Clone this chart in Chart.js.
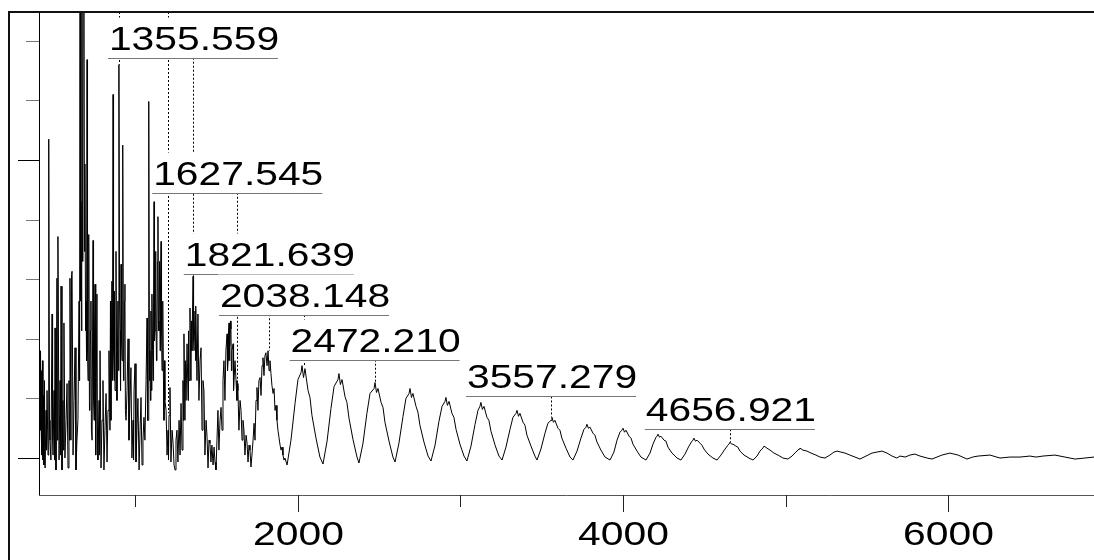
<!DOCTYPE html>
<html>
<head>
<meta charset="utf-8">
<script src="https://cdn.jsdelivr.net/npm/chart.js@4.4.0/dist/chart.umd.min.js"></script>
<style>
    html, body { margin: 0; padding: 0; background: #fff; }
    canvas { display: block; }
</style>
</head>
<body>
<canvas id="spectrum" width="1094" height="560"></canvas>
<script>
// --- DATA (m/z vs. intensity, arbitrary units, baseline = 0) ---

// low-mass part, very spiky
const mzA = [409, 412, 415, 418, 421, 424, 427, 430, 433, 436,
             439, 442, 446, 452, 455, 458, 464, 467, 470, 473,
             476, 482, 489, 492, 495, 501, 504, 507, 513, 519,
             522, 525, 532, 538, 541, 544, 550, 556, 559, 562,
             568, 575, 581, 587, 593, 596, 599, 605, 609, 612,
             618, 624, 630, 636, 642, 648];
const intA = [18, 106, 28, 108, 38, 88, 3, 98, -2, 63,
              -7, 78, -10, 48, 8, 68, 3, 128, 321, 38,
              18, -2, 145, 18, 3, 68, -2, 131, -12, 181,
              18, 223, -2, 78, 3, 173, -12, 58, 8, 136,
              0, 38, 75, -10, 78, 18, 181, 18, 185, 188,
              3, 58, 111, -12, 18, 38];

const mzB = [655, 658, 661, 664, 667, 670, 673, 676, 679, 682,
             685, 688, 691, 695, 698, 701, 704, 707, 710, 713,
             716, 719, 722, 725, 728, 731, 735];
const intB = [158, 78, 620, 158, 258, 128, 640, 198, 278, 640,
              600, 208, 296, 128, 158, 98, 401, 108, 78, 168,
              225, 48, 58, 128, 158, 28, 18];

const mzC = [741, 744, 747, 750, 753, 756, 759, 765, 768, 771,
             778, 781, 784, 790, 796, 802, 808, 814, 821, 827,
             833, 839, 845];
const intC = [219, 58, 38, 128, 175, 18, 3, 165, 28, -2,
              58, 3, 108, -10, 38, 78, -12, 28, 65, -4,
              48, 108, 28];

const mzD = [848, 851, 857, 860, 864, 867, 870, 873, 876, 882,
             885, 888, 894, 897, 900, 904, 907, 910, 913, 916,
             919, 922, 925, 928, 931, 934, 937, 940, 944];
const intD = [158, 38, 178, 78, 366, 108, 78, 168, 68, 208,
              108, 58, 158, 88, 396, 158, 128, 68, 195, 118,
              98, 168, 315, 78, 88, 158, 175, 48, 38];

const mzE = [950, 956, 962, 968, 974, 980, 987, 990, 993, 999,
             1005, 1011, 1017, 1024, 1030, 1036, 1042, 1048, 1054, 1060,
             1067];
const intE = [68, 120, 18, 58, 91, 0, 38, -2, 68, 95,
              -4, 28, 60, -12, 28, 61, -7, 18, 41, 18,
              78];

const mzF = [1073, 1076, 1079, 1082, 1085, 1088, 1091, 1094, 1097, 1100,
             1103, 1107, 1110, 1113, 1116, 1119, 1122, 1125, 1128, 1131,
             1134, 1137, 1140, 1143, 1146, 1150, 1153, 1156, 1159, 1162,
             1165, 1168, 1171, 1174, 1177, 1180, 1183];
const intF = [141, 38, 38, 128, 359, 78, 108, 58, 148, 68,
              165, 108, 78, 158, 258, 118, 128, 208, 168, 98,
              118, 198, 243, 138, 128, 198, 108, 178, 218, 128,
              88, 148, 158, 78, 38, 98, 58];

const mzG = [1190, 1196, 1202, 1205, 1208, 1214, 1220, 1227, 1233, 1239,
             1245, 1251, 1257, 1263, 1270, 1276, 1282, 1288];
const intG = [48, 3, 28, -2, 43, 71, -4, 28, 15, -7,
              -12, 18, 28, -4, 38, 3, 55, 8];

const mzH = [1294, 1297, 1300, 1306, 1309, 1313, 1319, 1325, 1328, 1331,
             1337, 1343, 1346, 1349, 1356, 1359, 1362, 1368, 1371, 1374,
             1380, 1386, 1392, 1399];
const intH = [78, 38, 125, 38, 98, 58, 115, 58, 128, 78,
              151, 78, 138, 108, 183, 118, 108, 148, 98, 153,
              78, 145, 58, 98];

const mzI = [1405, 1411, 1417, 1423, 1429, 1436, 1442, 1448, 1454, 1460,
             1466, 1472, 1479, 1485, 1491, 1497, 1503];
const intI = [111, 28, 78, 68, 3, 38, 21, -10, 18, 15,
              -4, 13, -7, 11, -4, -12, 18];

const mzJ = [1509, 1515, 1522, 1528, 1534, 1540, 1546, 1552, 1558, 1565,
             1568, 1571, 1574, 1577, 1580, 1583, 1586, 1589, 1592, 1595,
             1602, 1605, 1608, 1614, 1620, 1626, 1629, 1632, 1638, 1645];
const intJ = [48, 8, 38, 51, 28, 78, 98, 58, 108, 125,
              88, 98, 128, 136, 98, 113, 138, 130, 88, 108,
              115, 68, 78, 98, 78, 58, 75, 68, 28, 58];

const mzK = [1651, 1657, 1663, 1669, 1675, 1682, 1688, 1694, 1700, 1706,
             1712, 1718, 1725, 1731, 1737, 1743, 1749];
const intK = [48, 18, 38, 28, 3, 23, 15, -4, 13, 8,
              -9, 3, 18, 35, 18, 58, 71];

const mzL = [1755, 1761, 1768, 1774, 1780, 1786, 1792, 1798, 1804, 1811,
             1817, 1823, 1829, 1835, 1841, 1848, 1854, 1860, 1866, 1872,
             1878, 1884, 1891, 1897, 1903, 1909, 1915, 1921];
const intL = [48, 78, 81, 63, 93, 101, 83, 103, 106, 93,
              108, 88, 98, 85, 73, 65, 70, 48, 53, 38,
              28, 21, 13, 8, 11, 3, -2, 0];

// regular oscillation above ~1900 (one row per period)
const mzWave = [
    1934, 1958, 1983, 2001, 2020, 2026, 2035, 2044, 2063, 2075, 2087, 2112, 2136,
    2155, 2180, 2204, 2223, 2247, 2253, 2262, 2272, 2290, 2302, 2315, 2339, 2364,
    2376, 2401, 2425, 2444, 2469, 2475, 2484, 2493, 2512, 2524, 2536, 2561, 2585,
    2598, 2622, 2647, 2665, 2684, 2690, 2699, 2708, 2727, 2739, 2751, 2776, 2801,
    2819, 2844, 2868, 2887, 2905, 2911, 2920, 2930, 2948, 2960, 2973, 2997, 3022,
    3040, 3065, 3090, 3108, 3120, 3126, 3135, 3145, 3163, 3175, 3188, 3213, 3237,
    3256, 3280, 3305, 3323, 3342, 3348, 3357, 3366, 3385, 3397, 3409, 3434, 3458,
    3471, 3495, 3520, 3538, 3557, 3563, 3572, 3581, 3600, 3612, 3624, 3649, 3674,
    3692, 3717, 3741, 3760, 3772, 3778, 3787, 3797, 3815, 3827, 3840, 3864, 3889,
    3920, 3944, 3963, 3981, 3993, 4000, 4009, 4018, 4037, 4049, 4061, 4086, 4110,
    4141, 4166, 4184, 4203, 4209, 4215, 4224, 4233, 4252, 4264, 4276, 4301, 4332,
    4356, 4381, 4405, 4424, 4430, 4436, 4445, 4455, 4473, 4485, 4498, 4522, 4553,
    4578, 4602, 4627, 4645, 4651, 4658, 4667, 4676, 4694, 4706, 4719, 4744, 4774,
    4799, 4824, 4842, 4860, 4867, 4885, 4904, 4928, 4953, 4983,
    5014, 5039, 5063, 5082, 5088, 5106, 5131, 5156, 5186, 5211,
    5242, 5272, 5297, 5316, 5340, 5365, 5395, 5426,
    5457, 5494, 5531, 5561, 5592, 5623, 5654, 5684
];
const intWave = [
    -7, 18, 55, 79, 86, 93, 81, 90, 68, 61, 43, 20, 1,
    -6, 17, 50, 72, 79, 85, 74, 79, 62, 56, 40, 19, 1,
    -5, 15, 45, 65, 70, 76, 66, 70, 56, 51, 36, 17, 1,
    -4, 15, 42, 60, 65, 70, 61, 65, 52, 46, 33, 16, 2,
    -3, 13, 37, 52, 57, 61, 53, 57, 45, 41, 29, 14, 2,
    -3, 12, 34, 48, 52, 56, 49, 52, 41, 38, 27, 13, 2,
    -2, 11, 29, 41, 45, 48, 42, 45, 36, 33, 23, 12, 2,
    -2, 9, 25, 35, 38, 41, 36, 38, 30, 28, 20, 10, 1,
    -2, 7, 20, 29, 31, 34, 30, 31, 25, 23, 16, 8, 1,
    -2, 6, 18, 26, 28, 30, 26, 28, 22, 20, 14, 7, 1,
    -2, 5, 14, 21, 22, 24, 21, 22, 18, 17, 11, 5, 0,
    -2, 4, 12, 17, 18, 20, 17, 18, 15, 13, 9, 4, 0,
    -2, 3, 9, 13, 14, 16, 14, 14, 12, 11, 7, 3, 0,
    -2, 2, 7, 10, 12, 10, 8, 5, 3, 0,
    -1, 2, 6, 9, 10, 8, 7, 5, 3, 1,
    0, 3, 6, 7, 6, 5, 3, 1,
    -1, 2, 5, 6, 7, 5, 2, 0
];

// flat tail
const mzTail = [5703, 5735, 5764, 5795, 5826, 5870, 5900, 5961, 6010, 6035, 6060, 6115,
                6150, 6183, 6256, 6318, 6379, 6441, 6502, 6540, 6582, 6656, 6717,
                6779, 6840, 6896, 6932];
const intTail = [2, 1, 3, 4, 2, 0, -1, 3, 5, 4, 3, -1,
                 1, 2, 3, 0, 1, 1, 2, 1, 2, 3, 1,
                 -1, 0, 1, 0];

// annotated peaks
const labelMz = [1355.559, 1627.545, 1821.639, 2038.148, 2472.210, 3557.279, 4656.921];
const labelLevel = [403, 267, 185, 144, 99, 62, 29];   // height of the label underline
const labelPeak = [183, 76, 108, 93, 76, 41, 16];      // where the dotted leader ends
// leaders of labels sitting above the visible area
const hiddenMz = [900.5, 1201.8];
const hiddenPeak = [396, 45];

// axes
const xTickValues = [1000, 2000, 3000, 4000, 5000, 6000];
const xTickLabels = ['', '2000', '', '4000', '', '6000'];
const yTickValues = [0, 60, 120, 180, 240, 300, 360, 420];
const yMajorTicks = [0, 300];

const mzAll = [].concat(mzA, mzB, mzC, mzD, mzE, mzF, mzG, mzH, mzI, mzJ, mzK, mzL, mzWave, mzTail);
const intAll = [].concat(intA, intB, intC, intD, intE, intF, intG, intH, intI, intJ, intK, intL, intWave, intTail);

const FONT = '34px "Liberation Sans", Arial, sans-serif';
const STRETCH = 1.2;

function wideText(ctx, text, x, y) {
    ctx.save();
    ctx.translate(x, y);
    ctx.scale(STRETCH, 1);
    ctx.textAlign = 'center';
    ctx.textBaseline = 'alphabetic';
    ctx.fillText(text, 0, 0);
    ctx.restore();
}

const peakLabels = {
    id: 'peakLabels',
    afterDatasetsDraw(chart) {
        const { ctx, chartArea: a, scales: { x, y } } = chart;
        ctx.save();
        ctx.beginPath();
        ctx.rect(a.left, a.top, a.right - a.left, a.bottom - a.top);
        ctx.clip();

        // dotted leaders first, label boxes cover them
        ctx.strokeStyle = '#000';
        ctx.lineWidth = 1;
        ctx.setLineDash([2, 2]);
        const leaders = labelMz.map((m, i) => [m, y.getPixelForValue(labelLevel[i]), labelPeak[i]])
            .concat(hiddenMz.map((m, i) => [m, a.top, hiddenPeak[i]]));
        leaders.forEach(([m, top, pk]) => {
            const px = Math.round(x.getPixelForValue(m)) + 0.5;
            ctx.beginPath();
            ctx.moveTo(px, top);
            ctx.lineTo(px, y.getPixelForValue(pk));
            ctx.stroke();
        });
        ctx.setLineDash([]);

        labelMz.forEach((m, i) => {
            const cx = x.getPixelForValue(m);
            const uy = Math.round(y.getPixelForValue(labelLevel[i])) + 0.5;
            ctx.fillStyle = '#fff';
            ctx.fillRect(cx - 86, uy - 41, 172, 41);
            ctx.strokeStyle = '#777';
            ctx.beginPath();
            ctx.moveTo(cx - 85, uy);
            ctx.lineTo(cx + 85, uy);
            ctx.stroke();
            ctx.fillStyle = '#000';
            ctx.font = FONT;
            wideText(ctx, m.toFixed(3), cx + 1, uy - 9);
        });
        ctx.restore();
    }
};

const frame = {
    id: 'frame',
    afterDraw(chart) {
        const { ctx, chartArea: a, scales: { x, y } } = chart;
        ctx.save();

        // outer frame (left + top)
        ctx.strokeStyle = '#111';
        ctx.lineWidth = 2;
        ctx.beginPath();
        ctx.moveTo(9, chart.height);
        ctx.lineTo(9, a.top);
        ctx.lineTo(chart.width, a.top);
        ctx.stroke();

        // axis lines
        ctx.lineWidth = 1;
        ctx.strokeStyle = '#000';
        ctx.beginPath();
        ctx.moveTo(a.left + 0.5, a.top);
        ctx.lineTo(a.left + 0.5, a.bottom);
        ctx.stroke();
        ctx.strokeStyle = '#555';
        ctx.beginPath();
        ctx.moveTo(a.left, a.bottom + 0.5);
        ctx.lineTo(a.right, a.bottom + 0.5);
        ctx.stroke();

        // y ticks
        yTickValues.forEach(v => {
            const py = Math.round(y.getPixelForValue(v)) + 0.5;
            const major = yMajorTicks.includes(v);
            ctx.strokeStyle = major ? '#000' : '#777';
            ctx.beginPath();
            ctx.moveTo(a.left - (major ? 21 : 13), py);
            ctx.lineTo(a.left, py);
            ctx.stroke();
        });

        // x ticks + labels
        ctx.fillStyle = '#000';
        ctx.font = FONT;
        xTickValues.forEach((v, i) => {
            const px = Math.round(x.getPixelForValue(v)) + 0.5;
            const major = xTickLabels[i] !== '';
            ctx.strokeStyle = '#222';
            ctx.beginPath();
            ctx.moveTo(px, a.bottom);
            ctx.lineTo(px, a.bottom + (major ? 17 : 12));
            ctx.stroke();
            if (major) wideText(ctx, xTickLabels[i], px, a.bottom + 50);
        });
        ctx.restore();
    }
};

new Chart(document.getElementById('spectrum').getContext('2d'), {
    type: 'line',
    data: {
        datasets: [{
            data: mzAll.map((m, i) => ({ x: m, y: intAll[i] })),
            borderColor: '#000',
            borderWidth: 1,
            pointRadius: 0,
            tension: 0,
            fill: false
        }]
    },
    options: {
        responsive: false,
        animation: false,
        layout: { padding: { left: 39, top: 12, right: 0, bottom: 0 } },
        plugins: { legend: { display: false }, tooltip: { enabled: false } },
        scales: {
            x: {
                type: 'linear',
                min: 408.6,
                max: 6896,
                grid: { display: false },
                border: { display: false },
                ticks: { display: false },
                afterFit: s => { s.height = 65; }
            },
            y: {
                min: -37.2,
                max: 449,
                display: false
            }
        }
    },
    plugins: [peakLabels, frame]
});
</script>
</body>
</html>
